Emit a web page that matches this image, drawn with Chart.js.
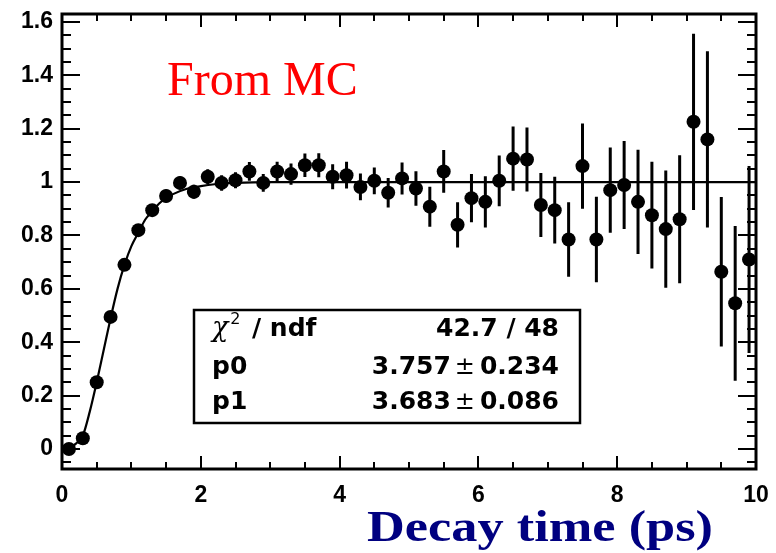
<!DOCTYPE html>
<html>
<head>
<meta charset="utf-8">
<script src="https://cdn.jsdelivr.net/npm/chart.js@4.4.1/dist/chart.umd.min.js"></script>
<style>
html,body{margin:0;padding:0;background:#fff;}
#c{display:block;}
</style>
</head>
<body>
<canvas id="c" width="776" height="553"></canvas>
<script>
// ---- data ----
const binCenters = [0.1,0.3,0.5,0.7,0.9,1.1,1.3,1.5,1.7,1.9,2.1,2.3,2.5,2.7,2.9,3.1,3.3,3.5,3.7,3.9,
                    4.1,4.3,4.5,4.7,4.9,5.1,5.3,5.5,5.7,5.9,6.1,6.3,6.5,6.7,6.9,7.1,7.3,7.5,7.7,7.9,
                    8.1,8.3,8.5,8.7,8.9,9.1,9.3,9.5,9.7,9.9];
const ratioValues = [0.00,0.04,0.25,0.495,0.69,0.82,0.895,0.948,0.997,0.964,1.02,0.997,1.007,1.04,0.997,1.04,1.03,1.063,1.063,1.02,
                     1.026,0.982,1.005,0.96,1.014,0.976,0.908,1.04,0.84,0.94,0.926,1.005,1.088,1.085,0.914,0.895,0.785,1.06,0.785,0.97,
                     0.989,0.926,0.876,0.824,0.861,1.226,1.16,0.664,0.546,0.71];
const ratioErrors = [0.005,0.01,0.015,0.018,0.02,0.02,0.022,0.024,0.025,0.026,0.028,0.029,0.03,0.035,0.033,0.036,0.04,0.044,0.045,0.047,
                     0.05,0.05,0.05,0.055,0.06,0.065,0.075,0.08,0.085,0.09,0.096,0.095,0.12,0.12,0.12,0.125,0.14,0.16,0.16,0.16,
                     0.165,0.195,0.2,0.22,0.24,0.33,0.33,0.28,0.29,0.35];
const fitX = [0.05,0.1,0.2,0.3,0.4,0.5,0.6,0.7,0.8,0.9,1.0,1.1,1.2,1.3,1.4,1.5,1.6,1.8,2.0,2.2,2.5,3.0,3.5,10];
const fitY = [-0.01,0.0,0.02,0.05,0.14,0.25,0.37,0.49,0.60,0.69,0.76,0.81,0.86,0.89,0.92,0.94,0.955,0.975,0.985,0.992,0.997,1.0,1.0,1.0];
const xTicks = [0,2,4,6,8,10];
const yTicks = [0,0.2,0.4,0.6,0.8,1,1.2,1.4,1.6];
const xMinorStep = 0.5;
const yMinorStep = 0.05;
const statsLines = [
  {label:"χ2 / ndf", value:"42.7 / 48"},
  {label:"p0", value:"3.757", err:"0.234"},
  {label:"p1", value:"3.683", err:"0.086"}
];
const xTitle = "Decay time (ps)";
const noteText = "From MC";

// ---- build datasets ----
const pointData = binCenters.map((x,i)=>({x:x, y:ratioValues[i]}));
const errData = [];
binCenters.forEach((x,i)=>{
  errData.push({x:x, y:ratioValues[i]-ratioErrors[i]});
  errData.push({x:x, y:ratioValues[i]+ratioErrors[i]});
  errData.push({x:x, y:null});
});
const fitData = fitX.map((x,i)=>({x:x, y:fitY[i]}));

const decor = {
  id:'decor',
  afterDraw(chart){
    const ctx = chart.ctx;
    const a = chart.chartArea;
    const xs = chart.scales.x, ys = chart.scales.y;
    ctx.save();
    ctx.strokeStyle = '#000';
    // ticks (inside, ROOT style)
    ctx.lineWidth = 2;
    ctx.beginPath();
    for (let k = 0; k*xMinorStep <= xs.max + 1e-9; k++) {
      const v = xs.min + k*xMinorStep;
      const px = Math.round(xs.getPixelForValue(v));
      const major = xTicks.some(t=>Math.abs(t-v)<1e-6);
      const L = major ? 13 : 7;
      ctx.moveTo(px, a.bottom); ctx.lineTo(px, a.bottom - L);
      ctx.moveTo(px, a.top); ctx.lineTo(px, a.top + L);
    }
    for (let k = Math.ceil(ys.min/yMinorStep); k*yMinorStep <= ys.max + 1e-9; k++) {
      const v = k*yMinorStep;
      const py = Math.round(ys.getPixelForValue(v));
      const major = yTicks.some(t=>Math.abs(t-v)<1e-6);
      const L = major ? 18 : 9;
      ctx.moveTo(a.left, py); ctx.lineTo(a.left + L, py);
      ctx.moveTo(a.right, py); ctx.lineTo(a.right - L, py);
    }
    ctx.stroke();
    // frame
    ctx.lineWidth = 3;
    ctx.strokeRect(a.left, a.top, a.right - a.left, a.bottom - a.top);

    // stats box
    const bx = 194, by = 310, bw = 386, bh = 113;
    ctx.fillStyle = '#fff';
    ctx.fillRect(bx, by, bw, bh);
    ctx.lineWidth = 2.5;
    ctx.strokeStyle = '#000';
    ctx.strokeRect(bx, by, bw, bh);
    ctx.fillStyle = '#000';
    ctx.textBaseline = 'alphabetic';
    const rowY = [336, 374, 409];
    const rightX = 559;
    const boldF = 'bold 25px "DejaVu Sans", sans-serif';
    statsLines.forEach((ln,i)=>{
      const yb = rowY[i];
      ctx.textAlign = 'left';
      if (i === 0) {
        ctx.font = 'italic 27px "DejaVu Serif", serif';
        ctx.fillText('χ', 212, yb);
        let w = ctx.measureText('χ').width;
        ctx.font = '16px "DejaVu Sans", sans-serif';
        ctx.fillText('2', 212 + w + 2, yb - 12);
        ctx.font = boldF;
        ctx.fillText('/ ndf', 252, yb);
      } else {
        ctx.font = boldF;
        ctx.fillText(ln.label, 212, yb);
      }
      ctx.textAlign = 'right';
      if (ln.err) {
        ctx.font = boldF;
        ctx.fillText(ln.err, rightX, yb);
        let w1 = ctx.measureText(ln.err).width;
        ctx.font = '24px "DejaVu Sans", sans-serif';
        ctx.fillText('±', rightX - w1 - 5, yb);
        let w2 = ctx.measureText('±').width;
        ctx.font = boldF;
        ctx.fillText(ln.value, rightX - w1 - w2 - 9, yb);
      } else {
        ctx.font = boldF;
        ctx.fillText(ln.value, rightX, yb);
      }
    });

    // note
    ctx.textAlign = 'left';
    ctx.fillStyle = '#ff0000';
    ctx.font = '48px "Liberation Serif", "Times New Roman", serif';
    ctx.fillText(noteText, 167, 95);

    // axis title (stretched horizontally like the reference)
    ctx.fillStyle = '#000080';
    ctx.font = 'bold 44px "Liberation Serif", "Times New Roman", serif';
    const tw = ctx.measureText(xTitle).width;
    const targetW = 346;
    ctx.translate(367, 541);
    ctx.scale(targetW / tw, 1);
    ctx.fillText(xTitle, 0, 0);
    ctx.restore();
  }
};

function yLabel(v){ return String(Math.round(v*10)/10); }

new Chart(document.getElementById('c'), {
  type: 'scatter',
  data: {
    datasets: [
      {data: errData, showLine: true, borderColor:'#000', borderWidth:3, pointRadius:0, spanGaps:false, order:3},
      {data: fitData, showLine: true, borderColor:'#000', borderWidth:2.2, pointRadius:0, cubicInterpolationMode:'monotone', order:2},
      {data: pointData, pointRadius:7, pointBackgroundColor:'#000', pointBorderWidth:0, order:1}
    ]
  },
  options: {
    responsive:false,
    animation:false,
    devicePixelRatio:1,
    layout:{padding:{left:0, top:14, right:20, bottom:0}},
    plugins:{legend:{display:false}, tooltip:{enabled:false}},
    scales:{
      x:{
        type:'linear', min:0, max:10,
        grid:{display:false, drawTicks:false},
        border:{display:false},
        afterBuildTicks(s){ s.ticks = xTicks.map(v=>({value:v})); },
        afterFit(s){ s.height = 84; s.paddingLeft = 0; s.paddingRight = 0; },
        ticks:{color:'#000', padding:13, maxRotation:0, font:{family:'"Liberation Sans", Arial, sans-serif', size:23, weight:'bold'}}
      },
      y:{
        type:'linear', min:-0.075, max:1.63,
        grid:{display:false, drawTicks:false},
        border:{display:false},
        afterBuildTicks(s){ s.ticks = yTicks.map(v=>({value:v})); },
        afterFit(s){ s.width = 62; s.paddingTop = 0; s.paddingBottom = 0; },
        ticks:{color:'#000', padding:9, callback:yLabel, font:{family:'"Liberation Sans", Arial, sans-serif', size:23, weight:'bold'}}
      }
    }
  },
  plugins:[decor]
});
</script>
</body>
</html>
